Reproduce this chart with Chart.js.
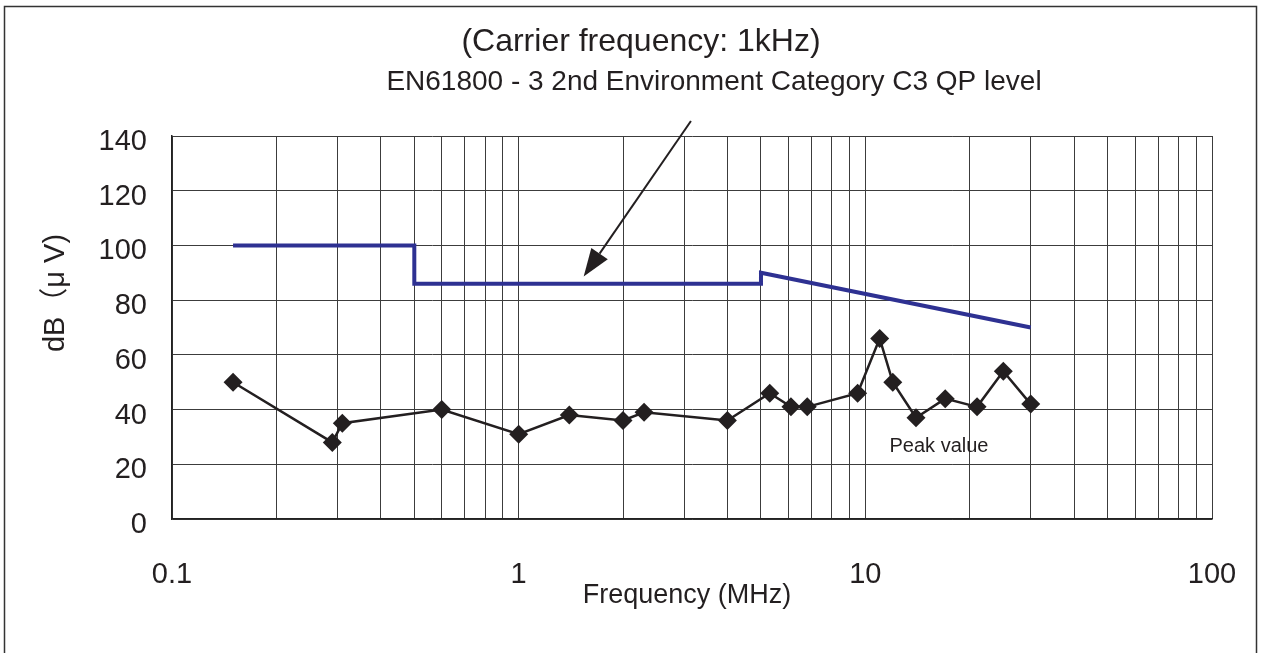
<!DOCTYPE html>
<html>
<head>
<meta charset="utf-8">
<script src="https://cdn.jsdelivr.net/npm/chart.js@4.4.1/dist/chart.umd.min.js"></script>
<style>
  html, body { margin: 0; padding: 0; background: #fff; }
  #wrap { width: 1261px; height: 653px; position: relative; }
</style>
</head>
<body>
<div id="wrap"><canvas id="emiChart"></canvas></div>
<script>
// limite EN61800-3 C3 (QP)
const limitFreq = [0.15, 0.5, 0.5, 5, 5, 30];
const limitLevel = [100, 100, 86, 86, 90, 70];

// valores de pico medidos
const peakFreq = [0.15, 0.29, 0.31, 0.6, 1.0, 1.4, 2.0, 2.3, 4.0, 5.3, 6.1, 6.8, 9.5, 11, 12, 14, 17, 21, 25, 30];
const peakLevel = [50, 28, 35, 40, 31, 38, 36, 39, 36, 46, 41, 41, 46, 66, 50, 37, 44, 41, 54, 42];

// eixos
const xDecades = [0.1, 1, 10, 100];
const xTickLabels = ['0.1', '1', '10', '100'];
const yTickLabels = [0, 20, 40, 60, 80, 100, 120, 140];

// seta da anotação (em coordenadas de dados)
const arrowFrom = { x: 3.14, y: 145.5 };
const arrowTo = { x: 1.54, y: 88.6 };

const ink = '#231f20';
const fontFam = '"Liberation Sans", Arial, Helvetica, sans-serif';

function toPoints(xs, ys) {
    return xs.map((x, i) => ({ x: x, y: ys[i] }));
}

// textos e moldura desenhados por cima
const extrasPlugin = {
    id: 'extras',
    afterDraw(chart) {
        const ctx = chart.ctx;
        const xs = chart.scales.x;
        const ys = chart.scales.y;
        ctx.save();

        // moldura externa
        ctx.strokeStyle = '#333';
        ctx.lineWidth = 1.5;
        ctx.strokeRect(4.5, 6.5, 1252, 700);

        ctx.fillStyle = ink;
        ctx.textAlign = 'center';
        ctx.textBaseline = 'middle';
        ctx.font = '32px ' + fontFam;
        ctx.fillText('(Carrier frequency: 1kHz)', 641, 42);
        ctx.font = '28px ' + fontFam;
        ctx.fillText('EN61800 - 3 2nd Environment Category C3 QP level', 714, 82);

        ctx.font = '27px ' + fontFam;
        ctx.fillText('Frequency (MHz)', 687, 596);

        ctx.font = '20px ' + fontFam;
        ctx.fillText('Peak value', 939, 446);

        // título do eixo Y
        ctx.save();
        ctx.translate(56, 293);
        ctx.rotate(-Math.PI / 2);
        ctx.font = '29px ' + fontFam + ', "Noto Sans CJK JP"';
        ctx.fillText('dB（μ V)', 0, 0);
        ctx.restore();

        // seta
        const x1 = xs.getPixelForValue(arrowFrom.x), y1 = ys.getPixelForValue(arrowFrom.y);
        const x2 = xs.getPixelForValue(arrowTo.x), y2 = ys.getPixelForValue(arrowTo.y);
        const ang = Math.atan2(y2 - y1, x2 - x1);
        const headLen = 28, headW = 10;
        const bx = x2 - headLen * Math.cos(ang), by = y2 - headLen * Math.sin(ang);
        ctx.strokeStyle = ink;
        ctx.lineWidth = 2;
        ctx.beginPath();
        ctx.moveTo(x1, y1);
        ctx.lineTo(bx, by);
        ctx.stroke();
        ctx.beginPath();
        ctx.moveTo(x2, y2);
        ctx.lineTo(bx + headW * Math.sin(ang), by - headW * Math.cos(ang));
        ctx.lineTo(bx - headW * Math.sin(ang), by + headW * Math.cos(ang));
        ctx.closePath();
        ctx.fill();

        ctx.restore();
    }
};

const ctx = document.getElementById('emiChart').getContext('2d');

const chart = new Chart(ctx, {
    type: 'line',
    data: {
        datasets: [
            {
                label: 'QP limit',
                data: toPoints(limitFreq, limitLevel),
                borderColor: '#2e3192',
                borderWidth: 4,
                pointRadius: 0,
                tension: 0,
                borderJoinStyle: 'miter'
            },
            {
                label: 'Peak value',
                data: toPoints(peakFreq, peakLevel),
                borderColor: ink,
                backgroundColor: ink,
                borderWidth: 2.5,
                pointStyle: 'rectRot',
                pointRadius: 9.5,
                pointBorderWidth: 0,
                tension: 0
            }
        ]
    },
    options: {
        responsive: true,
        maintainAspectRatio: false,
        animation: false,
        layout: { padding: { left: 0, top: 136, right: 49, bottom: 0 } },
        plugins: {
            legend: { display: false },
            tooltip: { enabled: false }
        },
        scales: {
            x: {
                type: 'logarithmic',
                min: 0.1,
                max: 100,
                afterBuildTicks(scale) {
                    const t = [];
                    xDecades.slice(0, -1).forEach(d => {
                        for (let k = 1; k < 10; k++) t.push({ value: +(d * k).toPrecision(3) });
                    });
                    t.push({ value: xDecades[xDecades.length - 1] });
                    scale.ticks = t;
                },
                afterFit(scale) {
                    scale.height = 134;
                    // o padding dos rótulos não deve encolher a área do gráfico
                    scale.paddingLeft = 0;
                    scale.paddingRight = 0;
                },
                ticks: {
                    autoSkip: false,
                    maxRotation: 0,
                    padding: 39,
                    color: ink,
                    font: { family: fontFam, size: 29 },
                    callback(value) {
                        const i = xDecades.findIndex(d => Math.abs(d - value) < 1e-9);
                        return i >= 0 ? xTickLabels[i] : '';
                    }
                },
                grid: { color: '#3c3c3c', lineWidth: 1, drawTicks: false },
                border: { color: '#222', width: 1.5 }
            },
            y: {
                min: 0,
                max: 140,
                afterBuildTicks(scale) {
                    scale.ticks = yTickLabels.map(v => ({ value: v }));
                },
                afterFit(scale) { scale.width = 172; },
                ticks: {
                    padding: 25,
                    labelOffset: 6,
                    color: ink,
                    font: { family: fontFam, size: 29 }
                },
                grid: { color: '#3c3c3c', lineWidth: 1, drawTicks: false },
                border: { color: '#222', width: 1.5 }
            }
        }
    },
    plugins: [extrasPlugin]
});
</script>
</body>
</html>
